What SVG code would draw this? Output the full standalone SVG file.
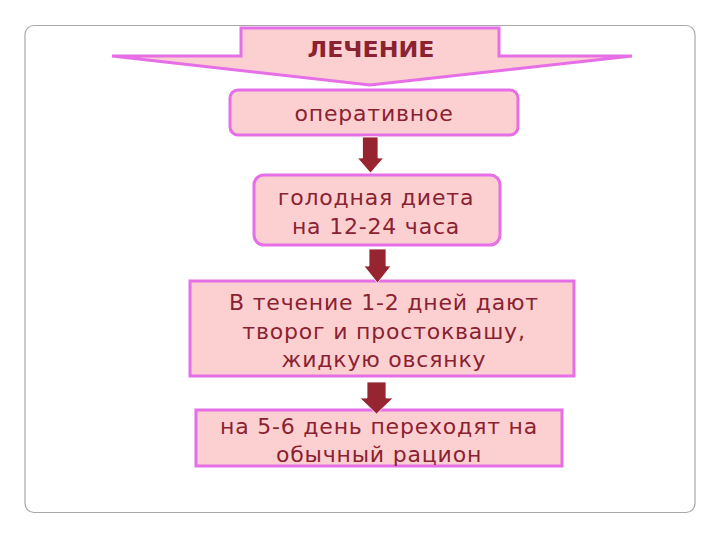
<svg xmlns="http://www.w3.org/2000/svg" width="720" height="540" viewBox="0 0 720 540">
<style>
.box{fill:#fcd0d0;stroke:#e66ee6;stroke-width:3}
.t{font-family:"DejaVu Sans",Verdana,sans-serif;font-size:22px;letter-spacing:0.8px;fill:#8a2232;text-anchor:middle}
.arr{fill:#962431;stroke:#ffffff;stroke-width:0.8}
</style>
<rect x="0" y="0" width="720" height="540" fill="#ffffff"/>
<rect x="25" y="25.5" width="670" height="487" rx="9" fill="#ffffff" stroke="#a8a8a8" stroke-width="1.2"/>
<g id="header">
<path class="box" d="M241,28 L499,28 L499,56 L632,56 L370,85 L112,56 L241,56 Z"/>
<text x="371" y="57" font-family="'DejaVu Sans',Verdana,sans-serif" font-weight="bold" font-size="21" fill="#8a2232" text-anchor="middle" textLength="127" lengthAdjust="spacingAndGlyphs">ЛЕЧЕНИЕ</text>
</g>
<g id="n1">
<rect class="box" x="230" y="90" width="288" height="45" rx="8"/>
<text class="t" x="374" y="121">оперативное</text>
</g>
<g id="n2">
<rect class="box" x="254" y="175" width="246" height="70" rx="10"/>
<text class="t" x="376" y="205">голодная диета</text>
<text class="t" x="376" y="234">на 12-24 часа</text>
</g>
<g id="n3">
<rect class="box" x="190" y="281" width="384" height="95"/>
<text class="t" x="384" y="310">В течение 1-2 дней дают</text>
<text class="t" x="384" y="339">творог и простоквашу,</text>
<text class="t" x="384" y="367">жидкую овсянку</text>
</g>
<g id="n4">
<rect class="box" x="196" y="410" width="366" height="56"/>
<text class="t" x="379" y="434">на 5-6 день переходят на</text>
<text class="t" x="379" y="462">обычный рацион</text>
</g>
<g id="connectors">
<path class="arr" d="M362.5,137 L378,137 L378,158 L383.5,158 L370.5,173 L357.5,158 L362.5,158 Z"/>
<path class="arr" d="M369,249 L386,249 L386,266 L391,266 L377.5,283 L364,266 L369,266 Z"/>
<path class="arr" d="M367,382 L386,382 L386,398 L393,398 L376.5,414 L360,398 L367,398 Z"/>
</g>
</svg>
